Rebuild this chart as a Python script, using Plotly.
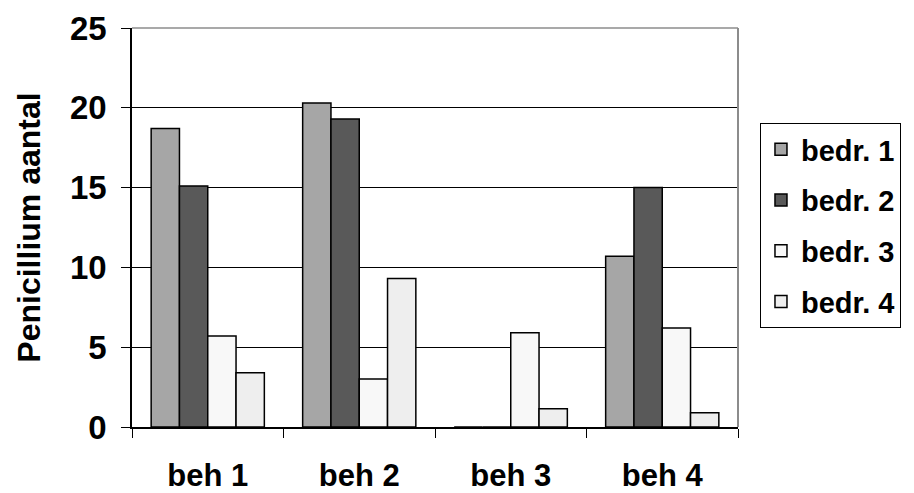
import plotly.graph_objects as go

categories = ["beh 1", "beh 2", "beh 3", "beh 4"]
bedr1 = [18.7, 20.3, 0, 10.7]
bedr2 = [15.1, 19.3, 0, 15.0]
bedr3 = [5.7, 3.0, 5.9, 6.2]
bedr4 = [3.4, 9.3, 1.15, 0.9]
series_names = ["bedr. 1", "bedr. 2", "bedr. 3", "bedr. 4"]
series_values = [bedr1, bedr2, bedr3, bedr4]
colors = ["#A6A6A6", "#595959", "#F8F8F8", "#EEEEEE"]
y_ticks = [0, 5, 10, 15, 20, 25]

FONT = "Liberation Sans"

fig = go.Figure()
for name, vals, col in zip(series_names, series_values, colors):
    fig.add_trace(go.Bar(
        x=categories, y=vals, name=name, legendgroup=name,
        marker=dict(color=col, line=dict(color="black", width=1.5)),
    ))

fig.update_layout(
    width=906, height=485,
    margin=dict(l=124, r=176, t=20, b=66),
    paper_bgcolor="white", plot_bgcolor="white",
    barmode="group", bargap=0.253, bargroupgap=0,
    font=dict(family=FONT, color="black", size=32, weight=700),
    showlegend=True,
    legend=dict(
        xref="container", yref="container",
        x=0.830, xanchor="left", y=0.763, yanchor="top",
        bordercolor="black", borderwidth=1, bgcolor="white",
        font=dict(family=FONT, size=29, weight=700, color="black"),
        tracegroupgap=10, itemwidth=30,
    ),
    xaxis=dict(
        automargin=False,
        showline=True, linecolor="black", linewidth=1.5,
        ticks="outside", tickson="boundaries", ticklen=9, tickcolor="black",
        tickfont=dict(family=FONT, size=31, weight=700),
        ticklabelstandoff=20,
        showgrid=False,
    ),
    yaxis=dict(
        automargin=False,
        range=[0, 25], tickvals=y_ticks,
        showline=True, linecolor="black", linewidth=1.5,
        ticks="outside", ticklen=9, tickcolor="black",
        tickfont=dict(family=FONT, size=33, weight=700),
        ticklabelstandoff=8,
        showgrid=True, gridcolor="black", gridwidth=1,
        zeroline=False,
        title=dict(text="Penicillium aantal", standoff=20,
                   font=dict(family=FONT, size=32, weight=700)),
    ),
)

# gray top and right frame
fig.add_shape(type="line", xref="paper", yref="paper", x0=0, x1=1, y0=1, y1=1,
              line=dict(color="#8C8C8C", width=1.5), layer="above")
fig.add_shape(type="line", xref="paper", yref="paper", x0=1, x1=1, y0=0, y1=1,
              line=dict(color="#8C8C8C", width=2), layer="above")

fig.write_html("out.html")
